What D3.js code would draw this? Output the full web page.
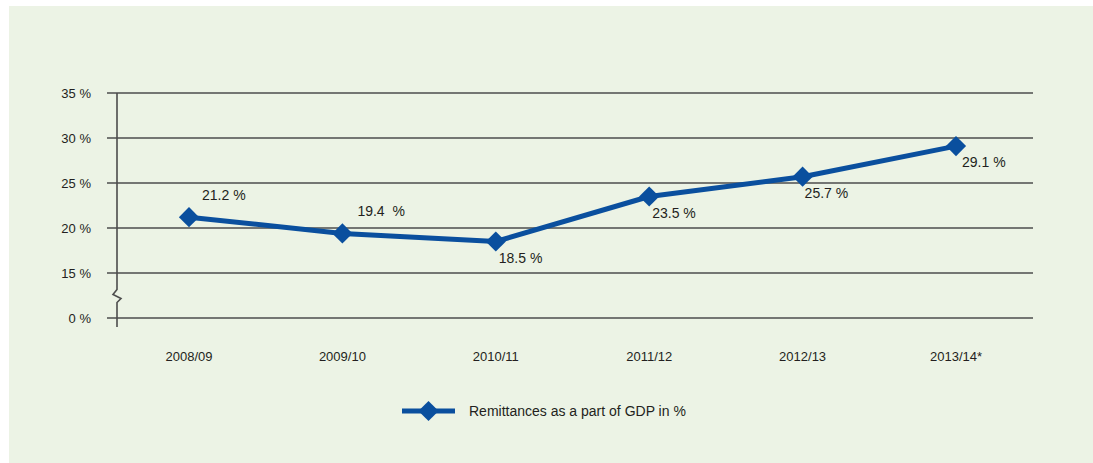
<!DOCTYPE html>
<html>
<head>
<meta charset="utf-8">
<script src="https://cdn.jsdelivr.net/npm/d3@7"></script>
<style>
  body { margin: 0; background: #fff; }
  text { font-family: "Liberation Sans Narrow", "Liberation Sans", Arial, sans-serif; fill: #231f20; }
</style>
</head>
<body>
<div id="container"></div>
<script>
// Chart data
var years = ["2008/09", "2009/10", "2010/11", "2011/12", "2012/13", "2013/14*"];
var remittances = [21.2, 19.4, 18.5, 23.5, 25.7, 29.1];
var valueLabels = ["21.2 %", "19.4  %", "18.5 %", "23.5 %", "25.7 %", "29.1 %"];
// bottom gridline stands for 0 % (axis is broken below 15 %)
var gridValues = [10, 15, 20, 25, 30, 35];
var gridLabels = ["0 %", "15 %", "20 %", "25 %", "30 %", "35 %"];
var seriesName = "Remittances as a part of GDP in %";

var width = 1093,
    height = 463;

var blue = "#0a4f9e";

var svg = d3.select("#container")
    .append("svg")
    .attr("width", width)
    .attr("height", height);

// Panel background
svg.append("rect")
    .attr("x", 9)
    .attr("y", 6)
    .attr("width", width - 9)
    .attr("height", height - 6)
    .attr("fill", "#ecf3e5");

var xScale = d3.scalePoint()
    .domain(years)
    .range([189, 956]);
var yScale = d3.scaleLinear()
    .domain([10, 35])
    .range([318, 93]);

// Gridlines
svg.selectAll(".grid")
    .data(gridValues)
    .enter()
    .append("line")
    .attr("class", "grid")
    .attr("x1", 107)
    .attr("x2", 1033)
    .attr("y1", function(d) { return yScale(d); })
    .attr("y2", function(d) { return yScale(d); })
    .attr("stroke", "#4d4d4d")
    .attr("stroke-width", 1.6);

// Y labels
svg.selectAll(".ylab")
    .data(gridValues)
    .enter()
    .append("text")
    .attr("class", "ylab")
    .attr("x", 91)
    .attr("y", function(d) { return yScale(d) + 4.5; })
    .attr("text-anchor", "end")
    .style("font-size", "13px")
    .text(function(d, i) { return gridLabels[i]; });

// Vertical axis with a break between 0 and 15
var axisX = 117;
var by = yScale(12.5);
svg.append("path")
    .attr("d", "M" + axisX + "," + yScale(35) + "V" + (by - 6) +
        "L" + (axisX - 4) + "," + (by - 1) + "L" + (axisX + 4) + "," + (by + 3) +
        "L" + axisX + "," + (by + 7) + "V" + (yScale(10) + 9))
    .attr("fill", "none")
    .attr("stroke", "#4d4d4d")
    .attr("stroke-width", 1.6);

// X labels
svg.selectAll(".xlab")
    .data(years)
    .enter()
    .append("text")
    .attr("class", "xlab")
    .attr("x", function(d) { return xScale(d); })
    .attr("y", 361)
    .attr("text-anchor", "middle")
    .style("font-size", "13px")
    .text(function(d) { return d; });

// Series line
var line = d3.line()
    .x(function(d, i) { return xScale(years[i]); })
    .y(function(d) { return yScale(d); });

svg.append("path")
    .datum(remittances)
    .attr("d", line)
    .attr("fill", "none")
    .attr("stroke", blue)
    .attr("stroke-width", 5)
    .attr("stroke-linejoin", "round");

var diamond = d3.symbol().type(d3.symbolDiamond2).size(260);

svg.selectAll(".marker")
    .data(remittances)
    .enter()
    .append("path")
    .attr("class", "marker")
    .attr("d", diamond)
    .attr("transform", function(d, i) { return "translate(" + xScale(years[i]) + "," + yScale(d) + ")"; })
    .attr("fill", blue);

// Value labels: offsets relative to the marker
var labelOffsets = [[13, -17], [15, -17], [3, 21], [3, 21], [2, 21], [6, 21]];
svg.selectAll(".vlab")
    .data(remittances)
    .enter()
    .append("text")
    .attr("class", "vlab")
    .attr("x", function(d, i) { return xScale(years[i]) + labelOffsets[i][0]; })
    .attr("y", function(d, i) { return yScale(d) + labelOffsets[i][1]; })
    .style("font-size", "14px")
    .style("white-space", "pre")
    .text(function(d, i) { return valueLabels[i]; });

// Legend
var legend = svg.append("g").attr("transform", "translate(402,411)");
legend.append("line")
    .attr("x1", 0)
    .attr("x2", 53)
    .attr("stroke", blue)
    .attr("stroke-width", 5);
legend.append("path")
    .attr("d", diamond)
    .attr("transform", "translate(26.5,0)")
    .attr("fill", blue);
legend.append("text")
    .attr("x", 67)
    .attr("y", 5)
    .style("font-size", "14px")
    .text(seriesName);
</script>
</body>
</html>
